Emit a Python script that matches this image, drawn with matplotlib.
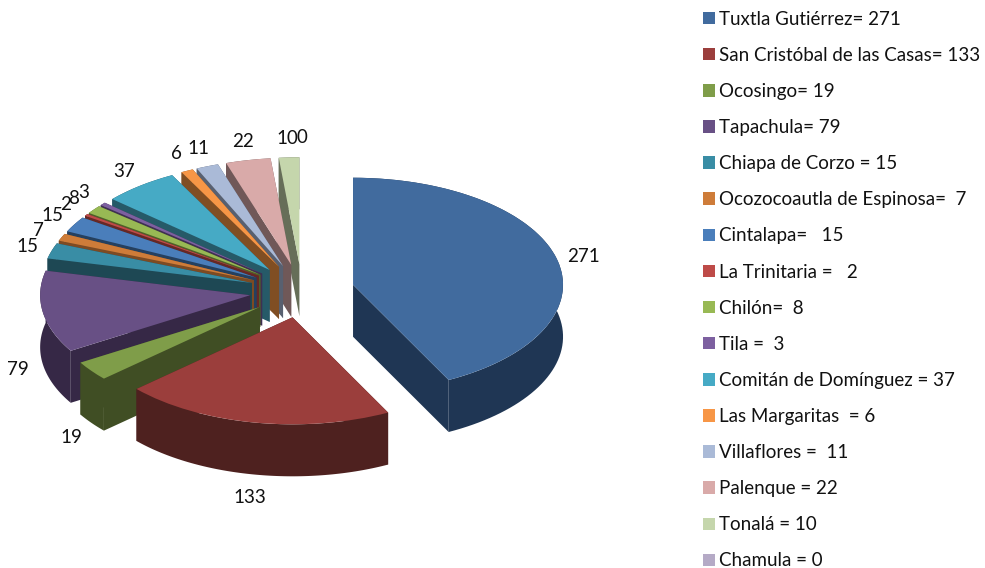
import numpy as np
import matplotlib
matplotlib.use("Agg")
import matplotlib.pyplot as plt

plt.rcParams['font.family'] = ['Lato', 'DejaVu Sans']

values = [271, 133, 19, 79, 15, 7, 15, 2, 8, 3, 37, 6, 11, 22, 10, 0]
legend_labels = [
    "Tuxtla Gutiérrez= 271", "San Cristóbal de las Casas= 133", "Ocosingo= 19",
    "Tapachula= 79", "Chiapa de Corzo = 15", "Ocozocoautla de Espinosa=  7",
    "Cintalapa=   15", "La Trinitaria =   2", "Chilón=  8", "Tila =  3",
    "Comitán de Domínguez = 37", "Las Margaritas  = 6", "Villaflores =  11",
    "Palenque = 22", "Tonalá = 10", "Chamula = 0",
]
top_colors = [
    "#416b9e", "#9b3e3c", "#7f9d49", "#685085", "#398da5", "#ce7c39",
    "#4a7ebb", "#be4b48", "#98b954", "#7d60a0", "#46aac5", "#f79646",
    "#aabad7", "#d9aaa9", "#c5d6ac", "#b5aac6",
]
side_colors = [
    "#1f3654", "#4e211f", "#404e24", "#362846", "#1e4854", "#7d4b23",
    "#25405f", "#672825", "#4f6029", "#3f3052", "#265a68", "#804e23",
    "#586070", "#705858", "#666e58", "#5c5666",
]

W, H = 985, 568
# pie centre and ellipse radii, in pixels of the picture
cx, cy = 302, 291
rx, ry = 210, 107
depth = 52 / ry
explode = 0.25


def draw_walls(wedge, color, zorder, ax):
    # side walls of one pie slice, hanging below the top face
    x0, y0 = wedge.center
    t = np.radians(np.linspace(wedge.theta1, wedge.theta2, 80))
    xs = x0 + wedge.r * np.cos(t)
    ys = y0 + wedge.r * np.sin(t)
    for i in (0, -1):
        ax.fill([x0, xs[i], xs[i], x0], [y0, ys[i], ys[i] - depth, y0 - depth],
                color=color, lw=0, zorder=zorder)
    ax.fill(np.r_[xs, xs[::-1]], np.r_[ys, ys[::-1] - depth],
            color=color, lw=0, zorder=zorder)


def main():
    fig = plt.figure(figsize=(W / 100, H / 100), dpi=100)
    ax = fig.add_axes([0, 0, 1, 1])
    wedges, _ = ax.pie(values, colors=top_colors, startangle=90, counterclock=False,
                       explode=[explode] * len(values), radius=1,
                       wedgeprops={"linewidth": 0})
    ax.set_aspect("auto")
    ax.set_xlim(-cx / rx, (W - cx) / rx)
    ax.set_ylim((cy - H) / ry, cy / ry)
    ax.axis("off")

    # back slices first so the front ones cover them
    mids = [np.radians((w.theta1 + w.theta2) / 2) for w in wedges]
    order = np.argsort([-np.sin(m) for m in mids])
    for rank, i in enumerate(order):
        w = wedges[i]
        z = 2 + rank * 2
        if values[i] > 0:
            draw_walls(w, side_colors[i], z, ax)
        w.set_zorder(z + 1)

    # value labels sit just outside each slice, under the wall on the front half
    for w, m, v in zip(wedges, mids, values):
        lx = w.center[0] + (1.13 if np.cos(m) > 0 else 1.12) * np.cos(m)
        ly = w.center[1] + 1.2 * np.sin(m) - 0.02
        if np.sin(m) < 0:
            ly -= depth
        ax.text(lx, ly, str(v), ha="center", va="center", fontsize=13.5,
                color="#111111", zorder=100)

    fig.legend(handles=wedges, labels=legend_labels, loc="upper left",
               bbox_to_anchor=(697 / W, 1 - 5 / H), frameon=False, fontsize=13.5,
               handlelength=0.65, handleheight=0.65, handletextpad=0.2,
               labelspacing=1.02, borderpad=0.3, borderaxespad=0, labelcolor="#111111")
    fig.savefig("out.png", dpi=100)


if __name__ == "__main__":
    main()
